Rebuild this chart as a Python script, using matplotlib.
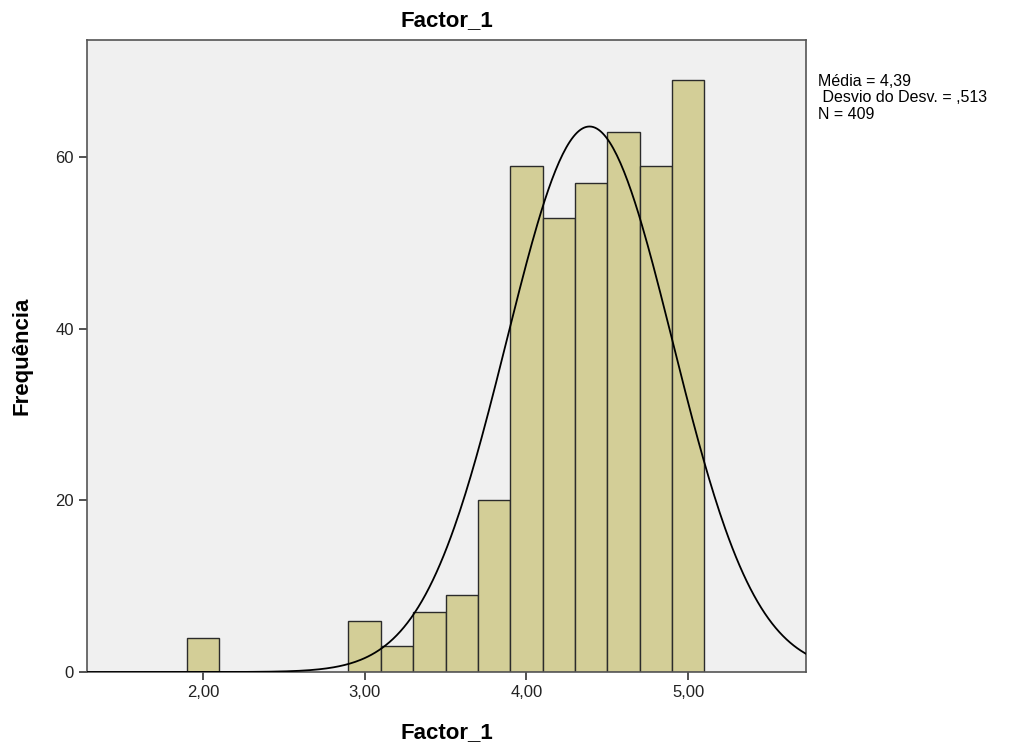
import numpy as np
from matplotlib import pyplot as plt

plt.rcParams['font.family'] = ['Liberation Sans', 'DejaVu Sans']

# histogram bins (centre) and counts
bin_centers = [2.0, 3.0, 3.2, 3.4, 3.6, 3.8, 4.0, 4.2, 4.4, 4.6, 4.8, 5.0]
counts = [4, 6, 3, 7, 9, 20, 59, 53, 57, 63, 59, 69]
bin_width = 0.2
media = 4.39
desvio = 0.513
n_total = 409
xtick_vals = [2.0, 3.0, 4.0, 5.0]
xtick_labels = ["2,00", "3,00", "4,00", "5,00"]
ytick_vals = [0, 20, 40, 60]

fig = plt.figure(figsize=(10.26, 7.49), dpi=100)
ax = fig.add_axes([87/1026, 77/749, (806-87)/1026, (672-40)/749])
ax.set_facecolor("#f0f0f0")

ax.bar(bin_centers, counts, width=bin_width, color="#d3ce97", edgecolor="#2b2b2b", linewidth=1.0, zorder=2)

# courbe normale ajustee
xs = np.linspace(1.28, 5.73, 400)
ys = n_total*bin_width/(desvio*np.sqrt(2*np.pi))*np.exp(-0.5*((xs-media)/desvio)**2)
ax.plot(xs, ys, color="black", linewidth=1.3, zorder=3)

ax.set_xlim(1.284, 5.728)
ax.set_ylim(0, 73.7)
ax.set_xticks(xtick_vals)
ax.set_xticklabels(xtick_labels)
ax.set_yticks(ytick_vals)
ax.tick_params(direction="out", length=6, width=1.2, labelsize=12, colors="#333333", labelcolor="#222222")
for s in ax.spines.values():
    s.set_color("#555555")
    s.set_linewidth(1.2)

ax.set_title("Factor_1", fontsize=16, fontweight="bold", pad=10)
ax.set_xlabel("Factor_1", fontsize=16, fontweight="bold", labelpad=16)
ax.set_ylabel("Frequência", fontsize=16, fontweight="bold", labelpad=16)

fig.text(818/1026, 1-98/749, "Média = 4,39\n Desvio do Desv. = ,513\nN = 409", fontsize=11.5, va="center", ha="left", linespacing=1.1)

fig.savefig("out.png", dpi=100)
